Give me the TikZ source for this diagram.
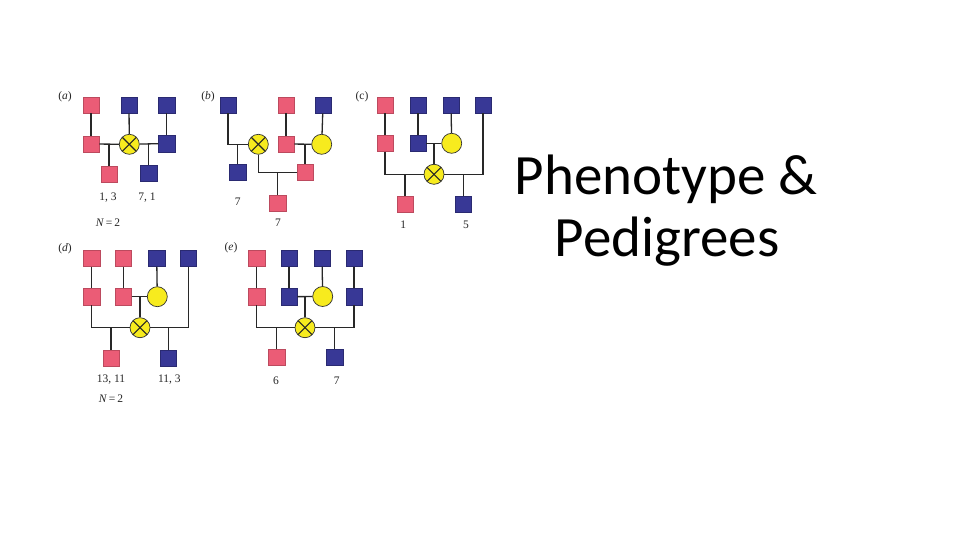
\documentclass[tikz,border=0pt]{standalone}
\usepackage{fontspec}
\setmainfont{Liberation Serif}
\newfontfamily\titlefont{Carlito}
\definecolor{pinkc}{RGB}{235,92,118}
\definecolor{bluec}{RGB}{56,56,150}
\definecolor{yellc}{RGB}{247,235,30}
\definecolor{linec}{RGB}{40,40,40}
\begin{document}
\begin{tikzpicture}[x=1pt,y=-1pt,
  lk/.style={draw=linec,line width=1.3pt},
  pk/.style={rectangle,draw=pinkc!80!black,line width=0.4pt,fill=pinkc,minimum size=16.5pt,inner sep=0pt},
  bl/.style={rectangle,draw=bluec!75!black,line width=0.4pt,fill=bluec,minimum size=16.5pt,inner sep=0pt},
  yc/.style={circle,draw=black!80,line width=0.7pt,fill=yellc,minimum size=20pt,inner sep=0pt},
  xc/.style={yc,path picture={\draw[line width=1.1pt,black!85] ([shift={(-7.2,-7.2)}]path picture bounding box.center) -- ([shift={(7.2,7.2)}]path picture bounding box.center);
      \draw[line width=1.1pt,black!85] ([shift={(-7.2,7.2)}]path picture bounding box.center) -- ([shift={(7.2,-7.2)}]path picture bounding box.center);}},
  lab/.style={font=\fontsize{11.5}{13}\selectfont,inner sep=0pt,text=black!85},
  ttl/.style={font=\titlefont\fontsize{57}{60}\selectfont,anchor=base,inner sep=0pt}]
\useasboundingbox[fill=white] (0,0) rectangle (960,540);

% ---------- panel (a)
\node[lab] (la) at (65,97) {(\textit{a})};
\node[pk] (a1) at (91,105) {};
\node[bl] (a2) at (129,105) {};
\node[bl] (a3) at (166.7,105) {};
\node[pk] (a4) at (91,144) {};
\node[xc] (ax) at (129.3,144.3) {};
\node[bl] (a5) at (166.7,143.5) {};
\node[pk] (a6) at (109,174) {};
\node[bl] (a7) at (148.5,173) {};
\draw[lk] (a1) -- (a4);
\draw[lk] (a2) -- (ax);
\draw[lk] (a3) -- (a5);
\draw[lk] (a4) -- (ax);
\draw[lk] (ax) -- (a5);
\draw[lk] (a6) -- (a6 |- ax);
\draw[lk] (a7) -- (a7 |- ax);
\node[lab] (ta1) at (108,198) {1, 3};
\node[lab] (ta2) at (147,198) {7, 1};
\node[lab] (ta3) at (108,223) {\textit{N}\,=\,2};

% ---------- panel (b)
\node[lab] (lb) at (208,97) {(\textit{b})};
\node[bl] (b1) at (228,105) {};
\node[pk] (b2) at (286,105) {};
\node[bl] (b3) at (323,105) {};
\node[xc] (bx) at (258.3,144.3) {};
\node[pk] (b4) at (286,144) {};
\node[yc] (b5) at (321.7,144.3) {};
\node[bl] (b6) at (237.7,172.3) {};
\node[pk] (b7) at (305,172.3) {};
\node[pk] (b8) at (277.5,203) {};
\draw[lk] (b1) -- (b1 |- bx) -- (bx);
\draw[lk] (b6) -- (b6 |- bx);
\draw[lk] (b2) -- (b4);
\draw[lk] (b3) -- (b5);
\draw[lk] (b4) -- (b5);
\draw[lk] (b7) -- (b7 |- b4);
\draw[lk] (bx) -- (bx |- b7) -- (b7);
\draw[lk] (b8) -- (b8 |- b7);
\node[lab] (tb1) at (237.7,201.5) {7};
\node[lab] (tb2) at (278,223) {7};

% ---------- panel (c)
\node[lab] (lc) at (362,97) {(c)};
\node[pk] (c1) at (385,105) {};
\node[bl] (c2) at (418,105) {};
\node[bl] (c3) at (451,105) {};
\node[bl] (c4) at (483,105) {};
\node[pk] (c5) at (385,143.3) {};
\node[bl] (c6) at (418,143.3) {};
\node[yc] (c7) at (451.7,143.3) {};
\node[xc] (cx) at (434,174.3) {};
\node[pk] (c8) at (405,204) {};
\node[bl] (c9) at (463.3,204) {};
\draw[lk] (c1) -- (c5);
\draw[lk] (c2) -- (c6);
\draw[lk] (c3) -- (c7);
\draw[lk] (c6) -- (c7);
\draw[lk] (cx) -- (cx |- c6);
\draw[lk] (c5) -- (c5 |- cx) -- (cx);
\draw[lk] (cx) -- (c4 |- cx) -- (c4);
\draw[lk] (c8) -- (c8 |- cx);
\draw[lk] (c9) -- (c9 |- cx);
\node[lab] (tc1) at (403.3,225) {1};
\node[lab] (tc2) at (466,225) {5};

% ---------- panel (d)
\node[lab] (ld) at (65,249) {(\textit{d})};
\node[pk] (d1) at (91.7,258.3) {};
\node[pk] (d2) at (123.3,258.3) {};
\node[bl] (d3) at (156.7,258.3) {};
\node[bl] (d4) at (188.3,258.3) {};
\node[pk] (d5) at (91.7,296.7) {};
\node[pk] (d6) at (123.3,296.7) {};
\node[yc] (d7) at (157.3,296.7) {};
\node[xc] (dx) at (140,327.7) {};
\node[pk] (d8) at (111,358.3) {};
\node[bl] (d9) at (168.3,358.3) {};
\draw[lk] (d1) -- (d5);
\draw[lk] (d2) -- (d6);
\draw[lk] (d3) -- (d7);
\draw[lk] (d6) -- (d7);
\draw[lk] (dx) -- (dx |- d6);
\draw[lk] (d5) -- (d5 |- dx) -- (dx);
\draw[lk] (dx) -- (d4 |- dx) -- (d4);
\draw[lk] (d8) -- (d8 |- dx);
\draw[lk] (d9) -- (d9 |- dx);
\node[lab] (td1) at (111,380) {13, 11};
\node[lab] (td2) at (169.3,380) {11, 3};
\node[lab] (td3) at (111,399) {\textit{N}\,=\,2};

% ---------- panel (e)
\node[lab] (le) at (231,248) {(\textit{e})};
\node[pk] (e1) at (256.7,258.3) {};
\node[bl] (e2) at (289,258.3) {};
\node[bl] (e3) at (322,258.3) {};
\node[bl] (e4) at (354,258.3) {};
\node[pk] (e5) at (256.7,296.7) {};
\node[bl] (e6) at (289,296.7) {};
\node[yc] (e7) at (322.7,296.5) {};
\node[bl] (e10) at (354,296.7) {};
\node[xc] (ex) at (305,327.7) {};
\node[pk] (e8) at (276.7,357.3) {};
\node[bl] (e9) at (334.5,357.3) {};
\draw[lk] (e1) -- (e5);
\draw[lk] (e2) -- (e6);
\draw[lk] (e3) -- (e7);
\draw[lk] (e4) -- (e10);
\draw[lk] (e6) -- (e7);
\draw[lk] (ex) -- (ex |- e6);
\draw[lk] (e5) -- (e5 |- ex) -- (ex);
\draw[lk] (ex) -- (e10 |- ex) -- (e10);
\draw[lk] (e8) -- (e8 |- ex);
\draw[lk] (e9) -- (e9 |- ex);
\node[lab] (te1) at (276,380.7) {6};
\node[lab] (te2) at (336.7,380.7) {7};

% ---------- title
\node[ttl] (t1) at (666,194.3) {Phenotype \&};
\node[ttl] (t2) at (667,256.7) {Pedigrees};
\end{tikzpicture}
\end{document}
